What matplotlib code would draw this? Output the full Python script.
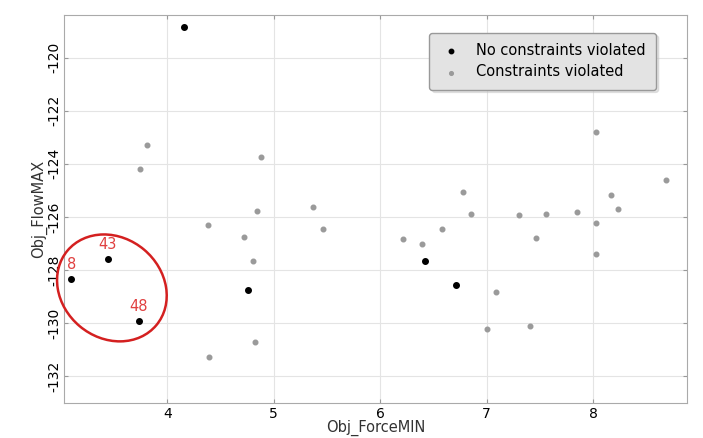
import numpy as np
import matplotlib.pyplot as plt
from matplotlib.patches import Ellipse
from matplotlib.transforms import ScaledTranslation

# feasible designs (black)
ok_x = [4.16, 3.44, 3.10, 3.73, 4.76, 6.42, 6.71]
ok_y = [-118.83, -127.58, -128.34, -129.92, -128.75, -127.66, -128.57]
ok_ids = ["", "43", "8", "48", "", "", ""]

# designs violating constraints (gray)
bad_x = [3.81, 3.74, 4.88, 4.84, 5.37, 8.03, 8.68, 6.78, 8.17, 6.85, 7.30, 7.56,
         7.85, 8.23, 4.38, 4.72, 4.81, 5.46, 4.82, 4.39, 6.21, 6.39, 6.58, 7.46,
         8.03, 8.03, 7.09, 7.00, 7.41]
bad_y = [-123.28, -124.19, -123.74, -125.77, -125.62, -122.79, -124.60, -125.06,
         -125.17, -125.90, -125.94, -125.90, -125.80, -125.70, -126.30, -126.75,
         -127.66, -126.45, -130.72, -131.28, -126.83, -127.02, -126.45, -126.80,
         -126.23, -127.40, -128.83, -130.23, -130.11]

xticks = [4, 5, 6, 7, 8]
yticks = [-132, -130, -128, -126, -124, -122, -120]

fig = plt.figure(figsize=(7.03, 4.38), dpi=100)
ax = fig.add_axes([0.091, 0.080, 0.886, 0.886])

ax.scatter(ok_x, ok_y, s=16, color="black", zorder=3, label="No constraints violated")
ax.scatter(bad_x, bad_y, s=11, color="#9a9a9a", zorder=3, label="Constraints violated")

for x, y, t in zip(ok_x, ok_y, ok_ids):
    if t:
        ax.text(x, y + 0.25, t, color="#e04040", fontsize=10.5, ha="center", va="bottom",
                clip_on=True, zorder=4)

# red ring round the chosen designs
trans = fig.dpi_scale_trans + ScaledTranslation(3.48, -128.68, ax.transData)
ax.add_patch(Ellipse((0, 0), 1.16, 1.0, angle=-40, transform=trans, clip_on=False,
                     fill=False, edgecolor="#d42020", linewidth=1.8, zorder=5))

ax.set_xlim(3.03, 8.88)
ax.set_ylim(-133.02, -118.38)
ax.set_xticks(xticks)
ax.set_yticks(yticks)
ax.set_yticklabels([str(v) for v in yticks], rotation=90, va="center")
ax.tick_params(labelsize=10, direction="in", length=3, color="#999999",
               top=True, right=True, pad=3)
ax.tick_params(axis="y", pad=2)
ax.grid(True, color="#e4e4e4", linewidth=0.8)
ax.set_axisbelow(True)
for s in ax.spines.values():
    s.set_color("#aaaaaa")

ax.set_xlabel("Obj_ForceMIN", fontsize=10.5, labelpad=-1, color="#333333")
ax.set_ylabel("Obj_FlowMAX", fontsize=10.5, labelpad=0, color="#333333")

leg = ax.legend(loc="upper right", bbox_to_anchor=(0.962, 0.973), fontsize=10.5,
                frameon=True, fancybox=True, shadow={"color": "#c8c8c8"}, markerscale=0.8,
                handletextpad=0.9, borderpad=0.7, labelspacing=0.45, handlelength=1.6)
leg.get_frame().set_facecolor("#e3e3e3")
leg.get_frame().set_edgecolor("#999999")

fig.savefig("out.png", dpi=100)
